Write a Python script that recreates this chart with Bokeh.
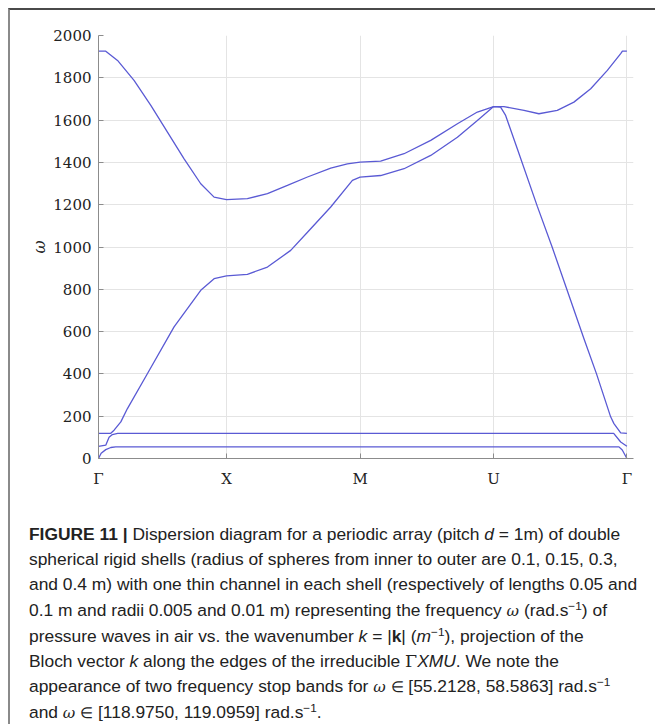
from bokeh.plotting import figure
from bokeh.models import Range1d, FixedTicker, CustomJSTickFormatter, Div
from bokeh.layouts import column
from bokeh.embed import file_html
from bokeh.resources import INLINE

# ---------------- data ----------------
tick_pos = [0.0, 0.969, 1.98, 2.991, 4.0]
tick_labels = ["Γ", "X", "M", "U", "Γ"]
y_ticks = [0, 200, 400, 600, 800, 1000, 1200, 1400, 1600, 1800, 2000]

band1_k = [0.0, 0.02, 0.055, 0.093, 0.13, 3.94, 3.965, 4.0]
band1_w = [0, 25, 42, 52, 55, 55, 40, 0]

band2_k = [0.0, 0.055, 0.08, 0.105, 0.145, 3.90, 3.953, 4.0]
band2_w = [57, 63, 100, 113, 119, 119, 78, 58]

band3_k = [0.0, 0.093, 0.118, 0.169, 0.219, 0.371, 0.572, 0.774, 0.875, 0.969,
           1.127, 1.279, 1.455, 1.582, 1.758, 1.922, 1.98, 2.136, 2.313, 2.515,
           2.717, 2.868, 2.991, 3.044, 3.082, 3.171, 3.322, 3.434, 3.574, 3.675,
           3.77, 3.877, 3.902, 3.953, 4.0]
band3_w = [119, 119, 134, 173, 236, 402, 622, 795, 850, 863,
           871, 905, 984, 1070, 1189, 1315, 1330, 1338, 1370, 1433,
           1519, 1598, 1664, 1661, 1622, 1463, 1192, 1000, 748, 566,
           400, 197, 165, 121, 119]

band4_k = [0.0, 0.055, 0.144, 0.269, 0.396, 0.522, 0.648, 0.774, 0.875, 0.969,
           1.127, 1.279, 1.43, 1.582, 1.758, 1.884, 1.98, 2.136, 2.313, 2.515,
           2.717, 2.868, 2.991, 3.069, 3.221, 3.334, 3.473, 3.599, 3.726, 3.852,
           3.953, 3.966, 4.0]
band4_w = [1926, 1926, 1882, 1788, 1670, 1543, 1417, 1299, 1236, 1224,
           1229, 1252, 1291, 1331, 1373, 1393, 1401, 1406, 1441, 1504,
           1583, 1638, 1664, 1664, 1646, 1630, 1646, 1685, 1748, 1835,
           1914, 1926, 1926]

bands = [(band1_k, band1_w), (band2_k, band2_w), (band3_k, band3_w), (band4_k, band4_w)]

LINE = "#5a5ad4"
SERIF = "DejaVu Serif"

p = figure(width=637, height=485, output_backend="svg", toolbar_location=None,
           x_range=Range1d(0, 4.05), y_range=Range1d(0, 2000),
           min_border_left=88, min_border_right=14, min_border_top=25, min_border_bottom=37)
p.outline_line_color = None
p.background_fill_color = "white"
p.border_fill_color = "white"

for k, w in bands:
    p.line(k, w, line_color=LINE, line_width=1.3)

p.xaxis.ticker = FixedTicker(ticks=tick_pos)
p.xaxis.formatter = CustomJSTickFormatter(args=dict(pos=tick_pos, lab=tick_labels), code="""
for (let i = 0; i < pos.length; i++) { if (Math.abs(pos[i] - tick) < 1e-6) return lab[i]; }
return '';
""")
p.yaxis.ticker = FixedTicker(ticks=y_ticks)
p.xgrid.ticker = FixedTicker(ticks=tick_pos)
p.ygrid.ticker = FixedTicker(ticks=y_ticks)
p.grid.grid_line_color = "#e4e4e4"
p.grid.grid_line_width = 1

for ax in (p.xaxis[0], p.yaxis[0]):
    ax.axis_line_color = "#8c8c8c"
    ax.major_tick_line_color = "#8c8c8c"
    ax.major_tick_in = 5
    ax.major_tick_out = 0
    ax.minor_tick_line_color = None
    ax.major_label_text_font = SERIF
    ax.major_label_text_font_size = "15px"
    ax.major_label_text_color = "#222222"
p.yaxis.major_label_standoff = 7
p.xaxis.major_label_standoff = 11

p.yaxis.axis_label = "ω"
p.yaxis.axis_label_text_font = SERIF
p.yaxis.axis_label_text_font_style = "italic"
p.yaxis.axis_label_text_font_size = "16px"
p.yaxis.axis_label_text_color = "#222222"
p.yaxis.axis_label_standoff = 1

SUP = '<sup style="font-size:0.68em; line-height:0; vertical-align:0.55em;">−1</sup>'
OM = '<i style="font-family:\'DejaVu Serif\', serif; font-size:0.88em;">ω</i>'
IN = '<span style="font-size:0.85em;">∈</span>'
caption_html = (
    '<div style="font-family:\'Liberation Sans\', Arial, sans-serif; font-size:17.4px; '
    'line-height:25.2px; color:#222; white-space:nowrap; margin:22px 0 0 14px;">'
    '<b>FIGURE 11 |</b> Dispersion diagram for a periodic array (pitch <i>d</i> = 1m) of double<br>'
    'spherical rigid shells (radius of spheres from inner to outer are 0.1, 0.15, 0.3,<br>'
    'and 0.4 m) with one thin channel in each shell (respectively of lengths 0.05 and<br>'
    '0.1 m and radii 0.005 and 0.01 m) representing the frequency ' + OM + ' (rad.s' + SUP + ') of<br>'
    'pressure waves in air vs. the wavenumber <i>k</i> = |<b>k</b>| (<i>m</i>' + SUP + '), projection of the<br>'
    'Bloch vector <i>k</i> along the edges of the irreducible '
    '<span style="font-family:\'DejaVu Serif\', serif;">Γ</span><i>XMU</i>. We note the<br>'
    'appearance of two frequency stop bands for ' + OM + ' ' + IN + ' [55.2128, 58.5863] rad.s' + SUP + '<br>'
    'and ' + OM + ' ' + IN + ' [118.9750, 119.0959] rad.s' + SUP + '.'
    '</div>'
)
caption = Div(text=caption_html, width=645, height=229)

layout = column(p, caption, styles={"border-top": "2px solid #4a4a4a",
                                    "border-left": "2px solid #8a8a8a",
                                    "background-color": "white",
                                    "margin-left": "8px", "margin-top": "8px"})

open("out.html", "w").write(file_html(layout, INLINE))
